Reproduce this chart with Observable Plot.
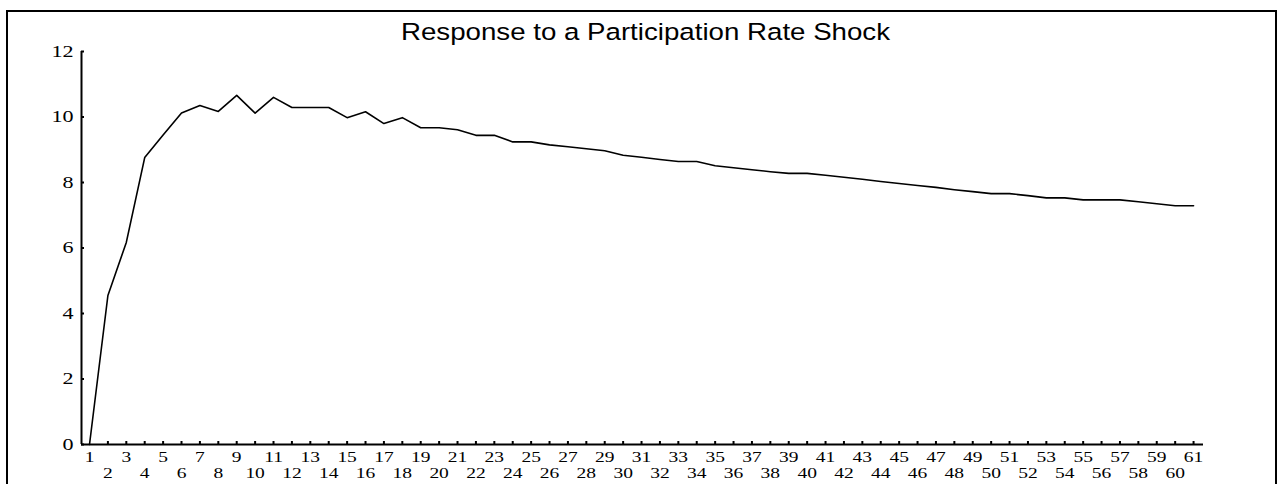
<!DOCTYPE html>
<html>
<head>
<meta charset="utf-8">
<script src="https://cdn.jsdelivr.net/npm/d3@7"></script>
<script src="https://cdn.jsdelivr.net/npm/@observablehq/plot@0.6"></script>
<style>
html, body { margin: 0; padding: 0; overflow: hidden; background: #fff; }
#wrap { position: relative; width: 1285px; height: 484px; overflow: hidden; }
#border { position: absolute; left: 6px; top: 10px; width: 1271px; height: 540px; border: 2px solid #000; box-sizing: border-box; pointer-events: none; z-index: 2; }
</style>
</head>
<body>
<div id="wrap"><div id="border"></div></div>
<script>
const title = "Response to a Participation Rate Shock";

const periods = [1,2,3,4,5,6,7,8,9,10,11,12,13,14,15,16,17,18,19,20,
  21,22,23,24,25,26,27,28,29,30,31,32,33,34,35,36,37,38,39,40,
  41,42,43,44,45,46,47,48,49,50,51,52,53,54,55,56,57,58,59,60,61];

const response = [0, 4.55, 6.17, 8.76, 9.45, 10.12, 10.35, 10.17, 10.66, 10.12,
  10.60, 10.29, 10.29, 10.29, 9.98, 10.16, 9.80, 9.98, 9.67, 9.67,
  9.61, 9.44, 9.44, 9.24, 9.24, 9.15, 9.09, 9.03, 8.97, 8.83,
  8.77, 8.70, 8.64, 8.64, 8.51, 8.45, 8.39, 8.33, 8.28, 8.28,
  8.22, 8.16, 8.10, 8.03, 7.97, 7.91, 7.85, 7.78, 7.72, 7.66,
  7.66, 7.60, 7.53, 7.53, 7.47, 7.47, 7.47, 7.41, 7.35, 7.29, 7.29];

const yTicks = [0, 2, 4, 6, 8, 10, 12];

const data = periods.map((p, i) => ({period: p, value: response[i]}));
const oddLabels = periods.filter(p => p % 2 === 1);
const evenLabels = periods.filter(p => p % 2 === 0);
const tickPeriods = periods.slice(1);

const W = 1285, H = 484, mL = 81, mR = 82, mT = 51, mB = 40;
const frameW = W - mL - mR, frameH = H - mT - mB;
const xDomain = [0.565, 61.54];
const serif = "'Liberation Serif', 'Times New Roman', Times, serif";
const sans = "'Liberation Sans', Arial, Helvetica, sans-serif";

const chart = Plot.plot({
  width: W, height: H,
  marginLeft: mL, marginRight: mR, marginTop: mT, marginBottom: mB,
  style: {background: "transparent"},
  x: {type: "linear", domain: xDomain, axis: null},
  y: {type: "linear", domain: [0, 12], axis: null},
  marks: [
    Plot.ruleY([0], {stroke: "#000", strokeWidth: 2}),
    Plot.ruleX([xDomain[0]], {y1: 0, y2: 12, stroke: "#000", strokeWidth: 2}),
    Plot.tickY(yTicks, {y: d => d, insetRight: frameW - 3, stroke: "#000", strokeWidth: 2}),
    Plot.tickX(tickPeriods, {x: d => d, insetTop: frameH - 3, stroke: "#000", strokeWidth: 2}),
    Plot.line(data, {x: "period", y: "value", stroke: "#000", strokeWidth: 1.6}),
    Plot.text(yTicks, {y: d => d, text: d => String(d), frameAnchor: "left", textAnchor: "end",
      lineAnchor: "bottom", dx: -8, dy: 5, fontFamily: serif, fontSize: 17}),
    Plot.text(oddLabels, {x: d => d, text: d => String(d), frameAnchor: "bottom",
      lineAnchor: "bottom", dy: 17, fontFamily: serif, fontSize: 15}),
    Plot.text(evenLabels, {x: d => d, text: d => String(d), frameAnchor: "bottom",
      lineAnchor: "bottom", dy: 33.5, fontFamily: serif, fontSize: 15}),
    Plot.text([title], {frameAnchor: "top", lineAnchor: "bottom", dx: 3, dy: -12,
      fontFamily: sans, fontSize: 24.5})
  ]
});

// Horizontal stretch of the glyphs (the reference's text is wider than its height suggests)
const svg = d3.select(chart);
svg.selectAll("text").each(function() {
  let fs = NaN, n = this;
  while (n && n !== chart && isNaN(fs)) {
    const a = n.getAttribute && n.getAttribute("font-size");
    if (a) fs = parseFloat(a);
    n = n.parentNode;
  }
  let k = 1;
  if (fs === 17 || fs === 15) k = 1.3;
  else if (fs === 24.5) k = 1.13;
  if (k === 1) return;
  const t = this.getAttribute("transform") || "";
  const x = this.getAttribute("x"), y = this.getAttribute("y");
  let pre = t;
  if (x !== null || y !== null) {
    pre += ` translate(${+x || 0},${+y || 0})`;
    this.removeAttribute("x"); this.removeAttribute("y");
  }
  this.setAttribute("transform", `${pre} scale(${k},1)`);
});

document.getElementById("wrap").prepend(chart);
</script>
</body>
</html>
